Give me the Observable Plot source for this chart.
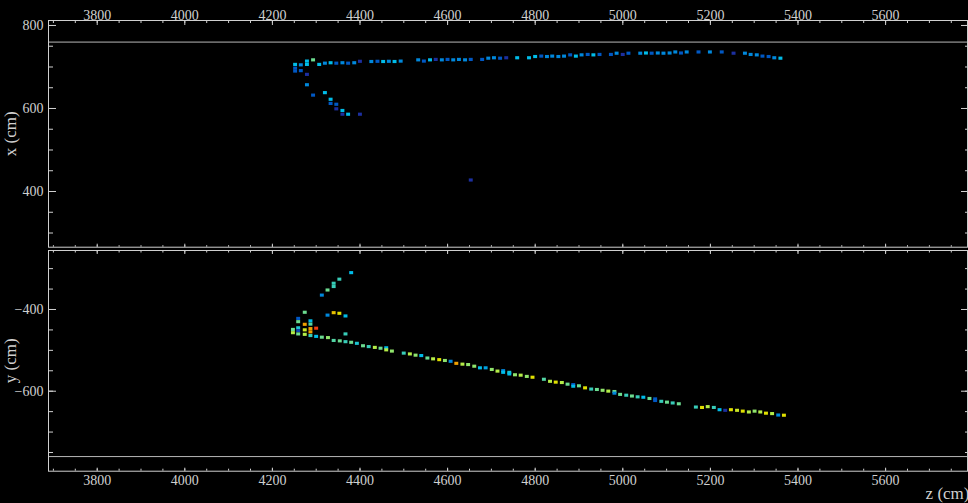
<!DOCTYPE html>
<html>
<head>
<meta charset="utf-8">
<script src="https://cdn.jsdelivr.net/npm/d3@7"></script>
<script src="https://cdn.jsdelivr.net/npm/@observablehq/plot@0.6"></script>
<style>
  html, body { margin: 0; padding: 0; background: #000; }
  svg { display: block; }
</style>
</head>
<body>
<script>
// ---- data (z in cm, transverse coordinate in cm, charge level 1..10) ----
const xzHits = [
  [4253,705,4],[4253,696,2],[4253,689,2],[4266,704,3],[4266,690,2],
  [4280,713,4],[4280,705,4],[4280,681,1],[4294,716,6],[4308,705,4],
  [4321,708,3],[4334,709,4],[4347,708,2],[4361,709,3],[4374,708,2],
  [4388,709,3],[4401,712.5,1],[4427,712,3],[4441,712.5,2],[4454,712,4],
  [4467,712.5,3],[4480,712,4],[4494,713,3],[4534,716,3],[4547,713,2],
  [4561,716,4],[4574,717,1],[4588,716,3],[4601,717,2],[4614,716,3],
  [4627,717,3],[4641,716,3],[4654,717,2],[4680,717,2],[4694,720,3],
  [4707,721,3],[4721,720,2],[4735,721,1],[4760,721,4],[4787,721,4],
  [4801,724,4],[4815,725,2],[4828,724,3],[4840,725,3],[4854,724,3],
  [4867,725,3],[4881,728,2],[4894,725,4],[4907,728,3],[4921,729,2],
  [4934,728,4],[4948,729,2],[4974,729,2],[4987,732,3],[5001,729,1],
  [5014,732,2],[5041,732,3],[5054,732.5,4],[5067,732,2],[5081,732.5,3],
  [5094,732,3],[5108,732.5,3],[5121,735,3],[5134,732.5,2],[5147,735,3],
  [5174,735,2],[5200,735,3],[5227,735,2],[5254,732,1],[5280,732,3],
  [5293,729,3],[5307,728,3],[5320,725,2],[5334,724,2],[5347,721,3],
  [5361,720,4],
  // branch
  [4280,656,3],[4294,631,2],[4321,637,4],[4334,621,4],[4334,611,2],
  [4347,609,2],[4347,598,1],[4361,594,4],[4361,585,1],[4374,585,4],
  [4401,585,1],
  // isolated
  [4654,426.5,1]
];

const yzHits = [
  [4381,-311,4],[4354,-327,5],[4341,-337,5],[4341,-345,5],[4327,-353.5,6],
  [4314,-366,3],[4275,-408,6],[4341,-409,8.5],[4354,-410.5,8],[4327,-415,3],
  [4368,-417,4],[4260,-423,2],[4260,-431,6],[4260,-446,4.5],[4260,-453,1.5],
  [4260,-461,6],[4288,-429,4],[4288,-437,5.5],[4275,-437.5,9],[4275,-451,7.5],
  [4288,-448,9],[4288,-456,9],[4301,-447,10],[4248,-450,6],[4248,-458,7],
  [4275,-462,7],[4288,-465,5],[4301,-467,4],[4314,-469,6],[4328,-470,6.5],
  [4368,-461,5],[4341,-477,5.5],[4355,-478,6],[4368,-480,5],[4381,-481.5,6],
  [4394,-484,4.5],[4408,-490,6],[4421,-492,5],[4435,-494,7],[4448,-496,6],
  [4461,-495,4],[4461,-500,7],[4474,-503,6.5],[4501,-508,5],[4515,-510,7],
  [4528,-513,6.5],[4541,-514,4],[4555,-520,6],[4568,-522,7],[4582,-524,8],
  [4595,-526,6.5],[4608,-528,3],[4621,-533,9],[4635,-535,7],[4648,-536,6.5],
  [4662,-540,6.5],[4675,-544,4],[4688,-544,3.5],[4702,-548,6.5],[4715,-552,7],
  [4728,-551,3],[4728,-555,4],[4742,-555,4.5],[4742,-559,4],[4755,-561,6.5],
  [4768,-562,7],[4782,-565,6.5],[4795,-567,8],[4821,-572,5.5],[4835,-577,7],
  [4848,-579,8],[4862,-580,7],[4875,-584,6],[4888,-585,2],[4888,-589,4],
  [4901,-588,6],[4915,-593,8],[4929,-596,5],[4942,-597,6],[4955,-599,6.5],
  [4968,-601,7],[4982,-602,6],[4982,-606,3],[4995,-609,6],[5009,-611,5],
  [5022,-613,6],[5035,-615,5],[5048,-616,4],[5062,-619,6],[5075,-620,2],
  [5075,-624,2],[5089,-626,5],[5102,-628,6],[5115,-630,5],[5129,-632,6],
  [5168,-640,5],[5182,-641,8],[5195,-639,7],[5209,-641,5],[5222,-646.5,4],
  [5235,-648,1],[5248,-646.5,8],[5262,-648,7.5],[5275,-650,8],[5289,-652,7],
  [5302,-650,6.5],[5315,-652,7],[5328,-655,8],[5342,-656,7],[5356,-659.5,3],
  [5369,-660,8]
];

const zTicks = [3800, 4000, 4200, 4400, 4600, 4800, 5000, 5200, 5400, 5600];
const xTicks = [400, 600, 800];
const yTicks = [-600, -400];
const detectorEdgeX = [760];
const detectorEdgeY = [-760];

const zDomain = [3688.8, 5787];
const xDomain = [265.8, 812];
const yDomain = [-795.8, -255.6];

const chargeLevels = [1, 2, 3, 4, 5, 6, 7, 8, 9, 10];
const chargeColors = ["#1c2fa0", "#0058c4", "#0088dc", "#00bce8", "#38ccb8",
                      "#6cdc90", "#b4ec48", "#e0e000", "#f0a000", "#f43c10"];

// ---- styling constants ----
const halfZ = 4.5, halfT = 3.8;
const fg = "#d0d0d0";
const serif = "'Liberation Serif', 'Times New Roman', serif";
const zMinor = d3.range(3700, 5800, 50);
const xMinor = d3.range(300, 812, 50);
const yMinor = d3.range(-750, -255, 50);
const blank = () => "";
const num = d => (d < 0 ? "\u2212" : "") + Math.abs(d);
const lab = {fill: fg, fontFamily: serif, fontSize: 14, tickFormat: num, fontVariant: "normal"};

const colorScale = {type: "linear", domain: chargeLevels, range: chargeColors};

function hitRects(data) {
  return Plot.rect(data, {
    x1: d => d[0] - halfZ, x2: d => d[0] + halfZ,
    y1: d => d[1] - halfT, y2: d => d[1] + halfT,
    fill: d => d[2]
  });
}

const topPanel = Plot.plot({
  width: 968, height: 248,
  marginTop: 20, marginBottom: 1.3, marginLeft: 48, marginRight: 1,
  style: {background: "#000", color: fg, fontFamily: serif, fontSize: "14px", overflow: "visible"},
  x: {domain: zDomain},
  y: {domain: xDomain},
  color: colorScale,
  marks: [
    Plot.ruleY(detectorEdgeX, {stroke: "#b8b8b8", strokeWidth: 1}),
    hitRects(xzHits),
    Plot.frame({stroke: fg}),
    Plot.axisX(zTicks, {anchor: "top", tickSize: -4, tickPadding: 5, ...lab}),
    Plot.axisX(zMinor, {anchor: "top", tickSize: -2, tickFormat: blank}),
    Plot.axisX(zTicks, {anchor: "bottom", tickSize: -3, tickFormat: blank}),
    Plot.axisX(zMinor, {anchor: "bottom", tickSize: -1.5, tickFormat: blank}),
    Plot.axisY(xTicks, {anchor: "left", tickSize: -8, tickPadding: 13, ...lab}),
    Plot.axisY(xMinor, {anchor: "left", tickSize: -5, tickFormat: blank}),
    Plot.axisY(xTicks, {anchor: "right", tickSize: -7, tickFormat: blank}),
    Plot.axisY(xMinor, {anchor: "right", tickSize: -3, tickFormat: blank}),
    Plot.text(["x (cm)"], {text: d => d, frameAnchor: "left", dx: -38, rotate: -90,
      fontSize: 17, fontFamily: serif, fill: fg, textAnchor: "middle"})
  ]
});

const bottomPanel = Plot.plot({
  width: 968, height: 255,
  marginTop: 2, marginBottom: 32.3, marginLeft: 48, marginRight: 1,
  style: {background: "#000", color: fg, fontFamily: serif, fontSize: "14px", overflow: "visible"},
  x: {domain: zDomain},
  y: {domain: yDomain},
  color: colorScale,
  marks: [
    Plot.ruleY(detectorEdgeY, {stroke: "#b8b8b8", strokeWidth: 1}),
    hitRects(yzHits),
    Plot.frame({stroke: fg}),
    Plot.axisX(zTicks, {anchor: "bottom", tickSize: -3, tickPadding: 7.3, ...lab}),
    Plot.axisX(zMinor, {anchor: "bottom", tickSize: -2, tickFormat: blank}),
    Plot.axisX(zTicks, {anchor: "top", tickSize: -3, tickFormat: blank}),
    Plot.axisX(zMinor, {anchor: "top", tickSize: -1.5, tickFormat: blank}),
    Plot.axisY(yTicks, {anchor: "left", tickSize: -8, tickPadding: 13, ...lab}),
    Plot.axisY(yMinor, {anchor: "left", tickSize: -5, tickFormat: blank}),
    Plot.axisY(yTicks, {anchor: "right", tickSize: -7, tickFormat: blank}),
    Plot.axisY(yMinor, {anchor: "right", tickSize: -3, tickFormat: blank}),
    Plot.text(["y (cm)"], {text: d => d, frameAnchor: "left", dx: -38, rotate: -90,
      fontSize: 17, fontFamily: serif, fill: fg, textAnchor: "middle"}),
    Plot.text(["z (cm)"], {text: d => d, frameAnchor: "bottom-right", dx: 2, dy: 27.5,
      fontSize: 17, fontFamily: serif, fill: fg, textAnchor: "end", lineAnchor: "bottom"})
  ]
});

document.body.append(topPanel, bottomPanel);
</script>
</body>
</html>
